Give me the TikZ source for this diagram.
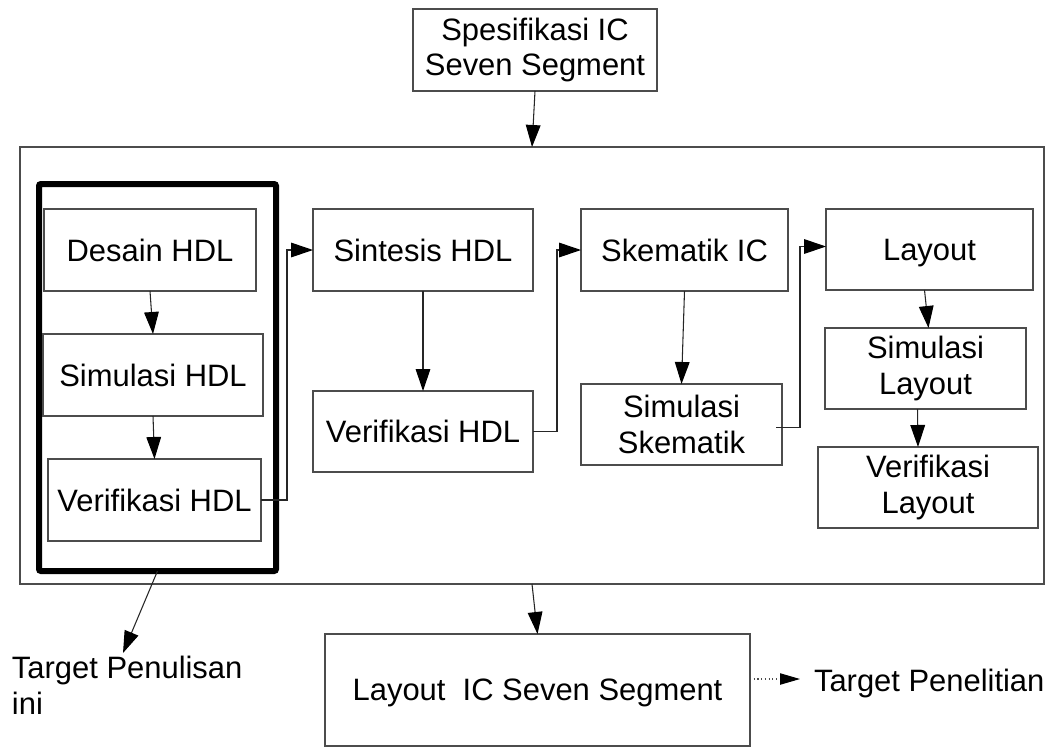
\documentclass[tikz,border=0pt]{standalone}
\usepackage{fontspec}
\setmainfont{Liberation Sans}
\usetikzlibrary{arrows.meta,calc}
\tikzset{
  box/.style={draw=black!70, line width=1pt, inner sep=0pt, outer sep=0pt, align=center,
    font=\fontsize{23.2}{26.5}\selectfont},
  onebox/.style={box, text depth=0pt},
  thickbox/.style={draw=black, line width=4.5pt, rounded corners=1.5pt, inner sep=0pt, outer sep=0pt},
  arr/.style={draw=black!85, line width=0.8pt, -{Triangle[length=16.5pt,width=11pt,color=black]}},
  dotarr/.style={draw=black!70, line width=0.8pt, dotted, -{Triangle[length=15pt,width=8.5pt,color=black]}},
  lbl/.style={inner sep=0pt, outer sep=0pt, font=\fontsize{23.2}{27}\selectfont}
}
\newcommand\mybox[7][onebox]{\node[#1, minimum width={(#4-#2)*0.75}, minimum height={(#5-#3)*0.75}] (#6) at ({(#2+#4)/2},{(#3+#5)/2}) {#7};}
\begin{document}
\begin{tikzpicture}[x=0.75pt,y=-0.75pt]
\useasboundingbox (0,0) rectangle (1048,747);
\mybox[box]{413}{9}{657}{91}{spec}{Spesifikasi IC\\Seven Segment}
\mybox[box]{20}{147}{1044}{584}{outer}{}
\mybox[thickbox]{39}{184}{276}{571}{thick}{}
\mybox{44}{209}{256}{291}{desain}{Desain HDL}
\mybox{43}{334}{263}{416}{simhdl}{Simulasi HDL}
\mybox{48}{459}{261}{541}{verif1}{Verifikasi HDL}
\mybox{313}{209}{533}{291}{sintesis}{Sintesis HDL}
\mybox{313}{391}{533}{472}{verif2}{Verifikasi HDL}
\mybox{581}{209}{788}{291}{skematik}{Skematik IC}
\mybox[box]{581}{384}{782}{465}{simsk}{Simulasi\\Skematik}
\mybox{826}{209}{1033}{290}{layout}{Layout}
\mybox[box]{825}{328}{1026}{409}{simlay}{Simulasi\\Layout}
\mybox[box]{818}{447}{1038}{528}{verlay}{Verifikasi\\Layout}
\mybox{325}{634}{750}{746}{final}{Layout\ \ IC Seven Segment}
\node[lbl, anchor=north west, align=left] (tpen) at (12,656) {Target Penulisan\\ini};
\node[lbl, anchor=base west] (tpel) at (814,691) {Target Penelitian};
\coordinate (tp1) at (123,653);
\coordinate (tp2) at (800,679);
% connectors
\draw[arr] (spec.south) -- (outer.north);
\draw[arr] (outer.south) -- (final.north);
\draw[arr] (thick.south) -- (tp1);
\draw[arr] (desain.south) -- (simhdl.north);
\draw[arr] (simhdl.south) -- (verif1.north);
\draw[arr] (verif1.east) -- ++(26,0) |- (sintesis.west);
\draw[arr] (sintesis.south) -- (verif2.north);
\draw[arr] (verif2.east) -- ++(24,0) |- (skematik.west);
\draw[arr] (skematik.south) -- (simsk.north);
\draw[arr] ($(simsk.east)+(-6,3)$) -- ++(24,0) |- ($(layout.west)+(0,-3)$);
\draw[arr] ($(layout.south)+(-5,0)$) -- ($(simlay.north)+(3,0)$);
\draw[arr] ($(simlay.south)+(-8,0)$) -- ($(verlay.north)+(-10,0)$);
\draw[dotarr] ($(final.east)+(0,-11)$) -- (tp2);
\end{tikzpicture}
\end{document}
